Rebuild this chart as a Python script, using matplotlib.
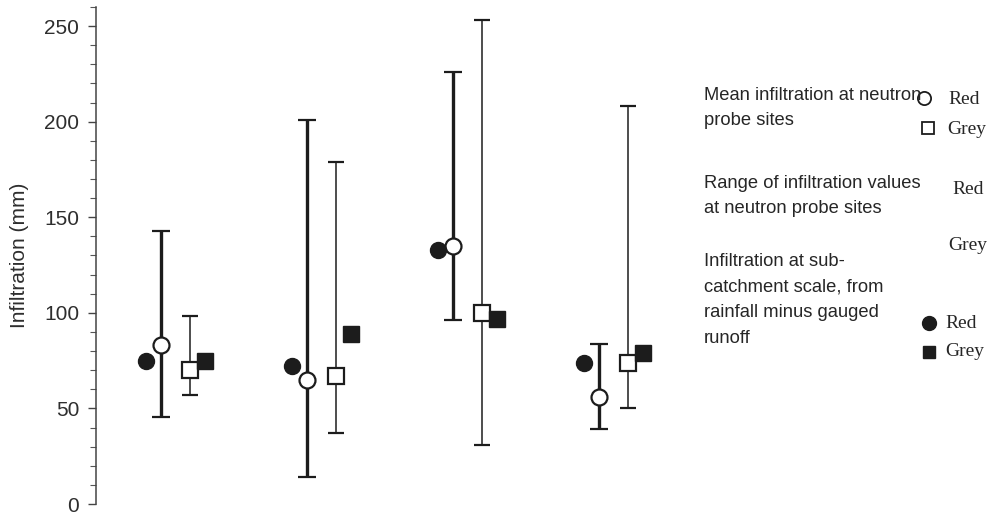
import numpy as np
import matplotlib
matplotlib.use('Agg')
import matplotlib.pyplot as plt
import matplotlib.ticker as mticker

# infiltration per site pair (mm): neutron probe mean + range, and sub-catchment value
red_mean = [83, 65, 135, 56]
red_min = [45.5, 14, 96, 39]
red_max = [143, 201, 226, 83.5]

grey_mean = [70, 67, 100, 74]
grey_min = [57, 37, 31, 50]
grey_max = [98.5, 179, 253, 208]

red_catchment = [75, 72, 133, 74]
grey_catchment = [75, 89, 97, 79]

INK = '#1c1c1c'
SANS = 'Liberation Sans'
SERIF = 'Liberation Serif'

W, H = 994, 516
fig = plt.figure(figsize=(W / 100, H / 100), dpi=100)
ax = fig.add_axes([96 / W, 12 / H, (680 - 96) / W, (504 - 7) / H])

groups = np.arange(len(red_mean))
x_red = groups - 0.1
x_grey = groups + 0.1


def _err(mean, lo, hi):
    mean, lo, hi = map(np.asarray, (mean, lo, hi))
    return [mean - lo, hi - mean]


# filled markers: sub-catchment estimates
ax.plot(x_red - 0.1, red_catchment, 'o', ms=11.5, color=INK, zorder=3)
ax.plot(x_grey + 0.1, grey_catchment, 's', ms=11, color=INK, zorder=3)

# red: thick range bars, grey: thin range bars
ax.errorbar(x_red, red_mean, yerr=_err(red_mean, red_min, red_max), fmt='o',
            ms=11.5, mfc='white', mec=INK, mew=1.6, ecolor=INK,
            elinewidth=2.4, capsize=6.5, capthick=1.6, zorder=2)
ax.errorbar(x_grey, grey_mean, yerr=_err(grey_mean, grey_min, grey_max), fmt='s',
            ms=11, mfc='white', mec=INK, mew=1.6, ecolor=INK,
            elinewidth=1.1, capsize=6, capthick=1.4, zorder=2)

ax.set_xlim(-0.545, 3.455)
ax.set_ylim(0, 260)
ax.yaxis.set_major_locator(mticker.FixedLocator([0, 50, 100, 150, 200, 250]))
ax.yaxis.set_minor_locator(mticker.MultipleLocator(10))
ax.tick_params(axis='y', which='major', length=6, width=1, color='#444',
               labelsize=15, labelcolor='#2e2e2e', pad=6)
ax.tick_params(axis='y', which='minor', length=4, width=0.8, color='#555')
ax.set_xticks([])
for lab in ax.get_yticklabels():
    lab.set_family(SANS)

for side in ('top', 'right', 'bottom'):
    ax.spines[side].set_visible(False)
ax.spines['left'].set_color('#444')
ax.spines['left'].set_linewidth(1.1)

ax.set_ylabel('Infiltration (mm)', fontsize=15, family=SANS, color='#2e2e2e')
ax.yaxis.set_label_coords(-0.114, 0.5)

# key on the right
def fx(px):
    return px / W


def fy(py):
    return 1 - py / H


txt = dict(family=SANS, fontsize=13.2, color='#262626', va='center', ha='left',
           linespacing=1.68)
fig.text(fx(704), fy(108), 'Mean infiltration at neutron\nprobe sites', **txt)
fig.text(fx(704), fy(196), 'Range of infiltration values\nat neutron probe sites', **txt)
fig.text(fx(704), fy(300), 'Infiltration at sub-\ncatchment scale, from\n'
         'rainfall minus gauged\nrunoff', **txt)

key = dict(family=SERIF, fontsize=14, color='#262626', va='center', ha='left')
fig.text(fx(948), fy(100), 'Red', **key)
fig.text(fx(947), fy(130), 'Grey', **key)
fig.text(fx(952), fy(189), 'Red', **key)
fig.text(fx(948), fy(245), 'Grey', **key)
fig.text(fx(945), fy(323), 'Red', **key)
fig.text(fx(945), fy(352), 'Grey', **key)

kx = fig.add_axes([0, 0, 1, 1], facecolor='none')
kx.set_xlim(0, W)
kx.set_ylim(H, 0)
kx.axis('off')
kx.plot([924], [98], 'o', ms=9.5, mfc='white', mec=INK, mew=1.3)
kx.plot([928], [128], 's', ms=9, mfc='white', mec=INK, mew=1.3)
kx.plot([929], [323], 'o', ms=10, color=INK)
kx.plot([929], [352], 's', ms=9, color=INK)

fig.savefig('out.png', dpi=100)
